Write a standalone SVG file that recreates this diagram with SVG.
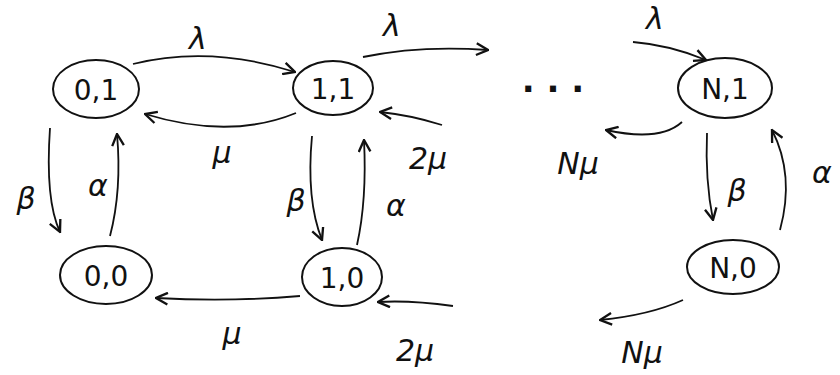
<svg xmlns="http://www.w3.org/2000/svg" width="840" height="375" viewBox="0 0 840 375">
<defs>
<style>
.n{fill:none;stroke:#111;stroke-width:2}
.e{fill:none;stroke:#111;stroke-width:1.8}
.t{font-family:"DejaVu Sans",sans-serif;font-size:28px;fill:#111;text-anchor:middle;dominant-baseline:central}
.l{font-family:"DejaVu Sans",sans-serif;font-size:30px;fill:#111;text-anchor:middle;dominant-baseline:central;font-style:italic}
.d{font-family:"DejaVu Sans",sans-serif;font-size:34px;font-weight:bold;fill:#111;text-anchor:middle;dominant-baseline:central}
</style>
<marker id="a" viewBox="0 0 12 12" refX="11" refY="6" markerWidth="14" markerHeight="14" markerUnits="userSpaceOnUse" orient="auto">
<polyline points="1,1 11,6 1,11" fill="none" stroke="#111" stroke-width="2"/>
</marker>
</defs>
<rect width="840" height="375" fill="#fff"/>
<g id="edges">
<path class="e" d="M133,64 Q210,45 295,72" marker-end="url(#a)"/>
<path class="e" d="M296,113 Q230,140 145,114" marker-end="url(#a)"/>
<path class="e" d="M363,57 Q420,45 488,50" marker-end="url(#a)"/>
<path class="e" d="M442,125 Q410,115 380,112" marker-end="url(#a)"/>
<path class="e" d="M633,42 Q670,45 706,60" marker-end="url(#a)"/>
<path class="e" d="M682,122 Q660,142 606,130" marker-end="url(#a)"/>
<path class="e" d="M50,128 Q45,200 60,232" marker-end="url(#a)"/>
<path class="e" d="M110,236 Q122,190 117,134" marker-end="url(#a)"/>
<path class="e" d="M312,136 Q306,200 322,240" marker-end="url(#a)"/>
<path class="e" d="M357,245 Q367,200 364,140" marker-end="url(#a)"/>
<path class="e" d="M707,133 Q705,180 713,220" marker-end="url(#a)"/>
<path class="e" d="M780,230 Q795,175 772,130" marker-end="url(#a)"/>
<path class="e" d="M300,296 Q230,302 156,298" marker-end="url(#a)"/>
<path class="e" d="M453,306 Q410,300 378,302" marker-end="url(#a)"/>
<path class="e" d="M683,300 Q650,315 600,320" marker-end="url(#a)"/>
</g>
<g id="n01"><ellipse class="n" cx="96" cy="89" rx="43" ry="29"/><text class="t" x="96" y="90">0,1</text></g>
<g id="n11"><ellipse class="n" cx="333" cy="88" rx="40" ry="27"/><text class="t" x="333" y="89">1,1</text></g>
<g id="nN1"><ellipse class="n" cx="725" cy="88" rx="47" ry="30"/><text class="t" x="725" y="89">N,1</text></g>
<g id="n00"><ellipse class="n" cx="106" cy="275" rx="46" ry="29"/><text class="t" x="106" y="276">0,0</text></g>
<g id="n10"><ellipse class="n" cx="342" cy="277" rx="40" ry="29"/><text class="t" x="342" y="278">1,0</text></g>
<g id="nN0"><ellipse class="n" cx="733" cy="267" rx="46" ry="27"/><text class="t" x="733" y="268">N,0</text></g>
<g id="labels">
<text class="l" x="198" y="38">λ</text>
<text class="l" x="222" y="152">μ</text>
<text class="l" x="392" y="25">λ</text>
<text class="l" x="428" y="158">2μ</text>
<text class="d" x="553" y="80">. . .</text>
<text class="l" x="655" y="18">λ</text>
<text class="l" x="578" y="163">Nμ</text>
<text class="l" x="26" y="198">β</text>
<text class="l" x="98" y="185">α</text>
<text class="l" x="296" y="200">β</text>
<text class="l" x="396" y="205">α</text>
<text class="l" x="737" y="190">β</text>
<text class="l" x="822" y="172">α</text>
<text class="l" x="232" y="333">μ</text>
<text class="l" x="415" y="350">2μ</text>
<text class="l" x="642" y="352">Nμ</text>
</g>
</svg>
